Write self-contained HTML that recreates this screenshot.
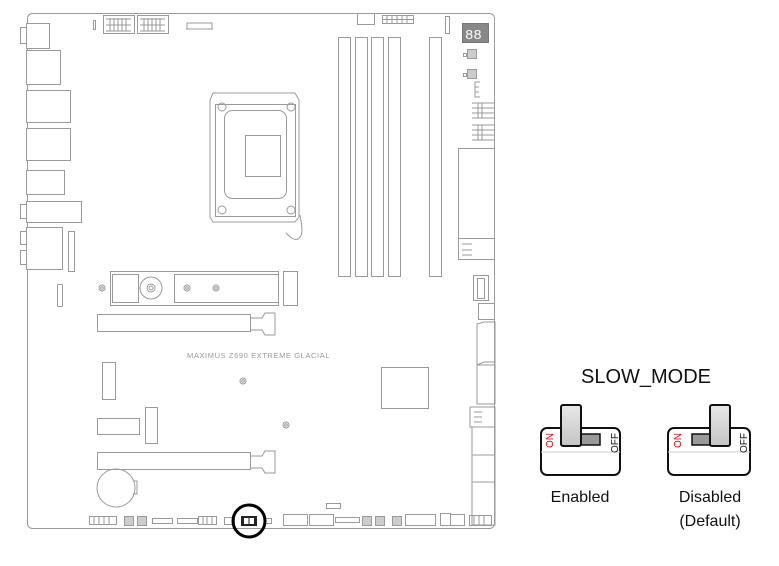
<!DOCTYPE html>
<html><head><style>
html,body{margin:0;padding:0;background:#fff;}
svg{display:block;font-family:"Liberation Sans",sans-serif;}
</style></head><body>
<svg width="779" height="566" viewBox="0 0 779 566">
<defs>
<linearGradient id="lv" x1="0" y1="0" x2="0" y2="1"><stop offset="0" stop-color="#e8e8e8"/><stop offset="1" stop-color="#c4c4c4"/></linearGradient>
</defs>
<g fill="none" stroke="#9a9a9a" stroke-width="1">
<rect x="27.5" y="13.5" width="467" height="515" rx="5"/>
<rect x="26.5" y="23.5" width="23" height="25" fill="#fff"/>
<rect x="20.5" y="27.5" width="6" height="16"/>
<rect x="26.5" y="50.5" width="34" height="34" fill="#fff"/>
<rect x="26.5" y="90.5" width="44" height="32" fill="#fff"/>
<rect x="26.5" y="128.5" width="44" height="32" fill="#fff"/>
<rect x="26.5" y="170.5" width="38" height="24" fill="#fff"/>
<rect x="26.5" y="201.5" width="55" height="21" fill="#fff"/>
<rect x="20.5" y="204.5" width="6" height="14"/>
<rect x="26.5" y="227.5" width="36" height="42" fill="#fff"/>
<rect x="20.5" y="231.5" width="6" height="13"/>
<rect x="20.5" y="250.5" width="6" height="14"/>
<rect x="68.5" y="231.5" width="6" height="40"/>
<rect x="57.5" y="284.5" width="5" height="22" rx="1"/>
<rect x="93.5" y="20.5" width="2" height="9"/>
<rect x="103.5" y="15.5" width="31" height="18"/>
<rect x="137.5" y="15.5" width="31" height="18"/>
<path d="M106 19h25M106 25h25M106 31h25M110 18v13M114 18v13M118 18v13M122 18v13M126 18v13M140 19h25M140 25h25M140 31h25M144 18v13M148 18v13M152 18v13M156 18v13M160 18v13"/>
<path d="M187 29v-6h25v6M186 29h27"/>
<path d="M210 100l3-7h82l4 7v117l-4 5h-82l-3-5z"/>
<rect x="215.5" y="104.5" width="80" height="112"/>
<rect x="224.5" y="110.5" width="62" height="88" rx="8"/>
<rect x="245.5" y="135.5" width="35" height="41"/>
<circle cx="222" cy="107" r="4"/><circle cx="222" cy="210" r="4"/><circle cx="291" cy="107" r="4"/><circle cx="291" cy="210" r="4"/>
<path d="M300 215c2 12 4 20-2 24c-4 2-8-2-12-6"/>
<rect x="338.5" y="37.5" width="12" height="239"/>
<rect x="355.5" y="37.5" width="12" height="239"/>
<rect x="371.5" y="37.5" width="12" height="239"/>
<rect x="388.5" y="37.5" width="12" height="239"/>
<rect x="429.5" y="37.5" width="12" height="239"/>
<rect x="357.5" y="13.5" width="17" height="11"/>
<rect x="382.5" y="15.5" width="31" height="8"/>
<path d="M382 19.5h31M387 15v8M392 15v8M397 15v8M402 15v8M407 15v8"/>
<rect x="445.5" y="16.5" width="4" height="17"/>
<rect x="462.5" y="23.5" width="26" height="19" fill="#888" stroke="#777"/>
<rect x="467.5" y="49.5" width="9" height="9" fill="#ccc"/>
<rect x="467.5" y="69.5" width="9" height="9" fill="#ccc"/>
<rect x="463.5" y="53.5" width="3" height="3"/><rect x="463.5" y="73.5" width="3" height="3"/>
<path d="M480 82h-5v15h5M475 87h4M475 92h4"/>
<path d="M472 103h23M472 108h23M472 113h23M472 118h23M478 103v15M482 103v15"/>
<path d="M472 125h23M472 130h23M472 135h23M472 140h23M478 125v15M482 125v15"/>
<rect x="458.5" y="148.5" width="36" height="90"/>
<rect x="458.5" y="238.5" width="36" height="21"/>
<path d="M462 244h10M462 250h10M462 255h10"/>
<rect x="473.5" y="275.5" width="15" height="25"/>
<rect x="477.5" y="278.5" width="7" height="20"/>
<rect x="478.5" y="303.5" width="16" height="16"/>
<path d="M477 324l7-2h11v43h-18zM477 365l7-3h11v42h-18z"/>
<path d="M470 407h25v20h-25zM474 412h8M474 417h8M474 422h8"/>
<path d="M472 427h23v98h-23zM472 455h23M472 482h23"/>
<rect x="110.5" y="271.5" width="168" height="34"/>
<rect x="112.5" y="274.5" width="26" height="28"/>
<circle cx="151" cy="288" r="11"/><circle cx="151" cy="288" r="4"/><circle cx="151" cy="288" r="2"/>
<rect x="174.5" y="274.5" width="104" height="28"/>
<circle cx="187" cy="288" r="3"/><circle cx="187" cy="288" r="1.3"/>
<circle cx="216" cy="288" r="3"/><circle cx="216" cy="288" r="1.3"/>
<circle cx="102" cy="288" r="3"/><circle cx="102" cy="288" r="1.3"/>
<rect x="283.5" y="271.5" width="14" height="34"/>
<rect x="97.5" y="314.5" width="153" height="17"/>
<path d="M250 318h12l3-5h10v22h-10l-3-5h-12"/>
<rect x="97.5" y="452.5" width="153" height="17"/>
<path d="M250 456h12l3-5h10v22h-10l-3-5h-12"/>
<rect x="102.5" y="362.5" width="13" height="37"/>
<rect x="145.5" y="407.5" width="12" height="36"/>
<rect x="97.5" y="418.5" width="42" height="16"/>
<circle cx="243" cy="381" r="3"/><circle cx="243" cy="381" r="1.3"/>
<circle cx="286" cy="425" r="3"/><circle cx="286" cy="425" r="1.3"/>
<circle cx="116" cy="488" r="19"/>
<path d="M133 481h4v13h-4"/>
<rect x="381.5" y="367.5" width="47" height="41"/>
<rect x="89.5" y="516.5" width="27" height="8"/>
<path d="M94 516v8M99 516v8M104 516v8M109 516v8"/>
<rect x="124.5" y="516.5" width="9" height="9" fill="#ccc"/>
<rect x="137.5" y="516.5" width="9" height="9" fill="#ccc"/>
<rect x="152.5" y="518.5" width="20" height="5"/>
<rect x="177.5" y="518.5" width="20" height="5"/>
<rect x="198.5" y="516.5" width="18" height="8"/>
<path d="M203 516v8M207 516v8M212 516v8"/>
<rect x="224.5" y="517.5" width="10" height="7"/>
<rect x="265.5" y="518.5" width="6" height="5"/>
<rect x="283.5" y="514.5" width="24" height="11"/>
<rect x="309.5" y="514.5" width="24" height="11"/>
<rect x="326.5" y="503.5" width="14" height="5"/>
<rect x="335.5" y="517.5" width="24" height="5"/>
<rect x="362.5" y="516.5" width="9" height="9" fill="#ccc"/>
<rect x="375.5" y="516.5" width="9" height="9" fill="#ccc"/>
<rect x="392.5" y="516.5" width="9" height="9" fill="#ccc"/>
<rect x="405.5" y="514.5" width="30" height="11"/>
<rect x="440.5" y="513.5" width="10" height="12"/>
<rect x="450.5" y="514.5" width="14" height="11"/>
<rect x="469.5" y="515.5" width="22" height="10"/>
<path d="M474 515v10M479 515v10M484 515v10"/>
</g>
<text x="187" y="358" font-size="7.5" fill="#999" letter-spacing="0.6">MAXIMUS Z690 EXTREME GLACIAL</text>
<text x="465" y="39" font-size="14" fill="#fff" font-family="'Liberation Mono',monospace">88</text>
<rect x="241" y="516" width="16" height="10" fill="#222"/>
<rect x="244" y="518" width="10" height="6" fill="#fff"/>
<line x1="249" y1="518" x2="249" y2="524" stroke="#222"/>
<circle cx="249" cy="521" r="16" fill="none" stroke="#000" stroke-width="3"/>
<text x="646" y="383" font-size="20" text-anchor="middle" fill="#111">SLOW_MODE</text>
<g stroke="#111" stroke-width="2">
<rect x="541" y="428" width="79" height="47" rx="6" fill="#fff"/>
<path d="M541 452h79" stroke-width="1" stroke="#ccc"/>
<rect x="581" y="434" width="19" height="11" fill="#999" stroke-width="1.5"/>
<rect x="561" y="405" width="20" height="41" rx="2" fill="url(#lv)"/>
<rect x="668" y="428" width="82" height="47" rx="6" fill="#fff"/>
<path d="M668 452h82" stroke-width="1" stroke="#ccc"/>
<rect x="692" y="434" width="18" height="11" fill="#999" stroke-width="1.5"/>
<rect x="710" y="405" width="20" height="41" rx="2" fill="url(#lv)"/>
</g>
<g font-size="10">
<text transform="translate(553,448) rotate(-90)" fill="#d00">ON</text>
<text transform="translate(618,453) rotate(-90)" fill="#111">OFF</text>
<text transform="translate(681,448) rotate(-90)" fill="#d00">ON</text>
<text transform="translate(747,453) rotate(-90)" fill="#111">OFF</text>
</g>
<g font-size="16" fill="#111" text-anchor="middle">
<text x="580" y="502">Enabled</text>
<text x="710" y="502">Disabled</text>
<text x="710" y="526">(Default)</text>
</g>
</svg>
</body></html>
